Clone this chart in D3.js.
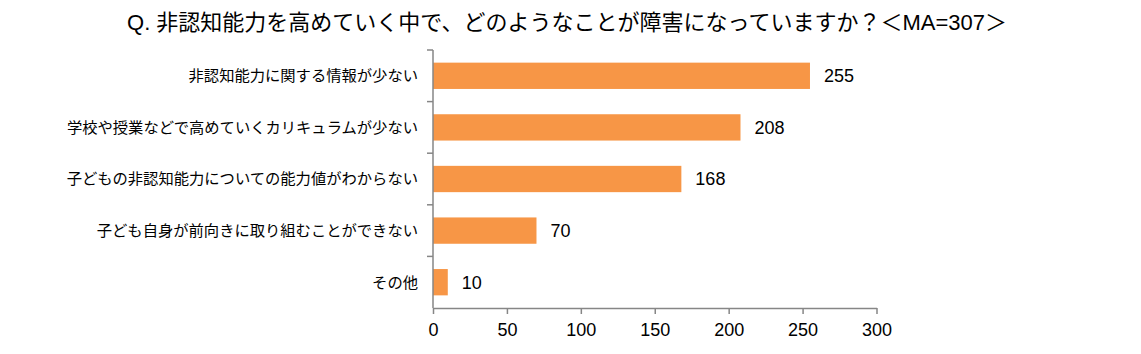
<!DOCTYPE html>
<html>
<head>
<meta charset="utf-8">
<script src="https://cdn.jsdelivr.net/npm/d3@7"></script>
<style>
    body { margin: 0; background: #fff; }
    svg text { font-family: "Liberation Sans", Arial, "Noto Sans CJK JP", sans-serif; fill: #000; }
</style>
</head>
<body>
<div id="chart"></div>
<script>
// Data
const categories = [
    "非認知能力に関する情報が少ない",
    "学校や授業などで高めていくカリキュラムが少ない",
    "子どもの非認知能力についての能力値がわからない",
    "子ども自身が前向きに取り組むことができない",
    "その他"
];
const counts = [255, 208, 168, 70, 10];
const xTicks = [0, 50, 100, 150, 200, 250, 300];
const title = "Q. 非認知能力を高めていく中で、どのようなことが障害になっていますか？＜MA=307＞";

// Chart dimensions
const width = 1141;
const height = 354;
const marginTop = 50;
const marginBottom = 46;
const marginLeft = 433;
const plotRight = 876.5;

const svg = d3.create("svg")
    .attr("width", width)
    .attr("height", height);
chart.append(svg.node());

// Scales
const x = d3.scaleLinear()
    .domain([0, 300])
    .range([marginLeft, plotRight]);

const y = d3.scaleBand()
    .domain(categories)
    .range([marginTop, height - marginBottom])
    .padding(0);

const barH = y.bandwidth() * 0.51;

// Title
svg.append("text")
    .attr("x", 567)
    .attr("y", 30)
    .attr("text-anchor", "middle")
    .style("font-size", "22px")
    .text(title);

// Bars
svg.selectAll("rect.bar")
    .data(categories)
    .enter()
    .append("rect")
    .attr("class", "bar")
    .attr("x", x(0))
    .attr("y", d => y(d) + (y.bandwidth() - barH) / 2)
    .attr("width", (d, i) => x(counts[i]) - x(0))
    .attr("height", barH)
    .attr("fill", "#F79646");

// Value labels
svg.selectAll("text.val")
    .data(categories)
    .enter()
    .append("text")
    .attr("class", "val")
    .attr("x", (d, i) => x(counts[i]) + 14)
    .attr("y", d => y(d) + y.bandwidth() / 2)
    .attr("dy", "0.36em")
    .style("font-size", "18px")
    .text((d, i) => counts[i]);

// X axis
const gx = svg.append("g")
    .attr("transform", `translate(0,${height - marginBottom})`)
    .call(d3.axisBottom(x).tickValues(xTicks).tickSize(6).tickSizeOuter(0).tickPadding(9));
gx.select(".domain").attr("stroke", "#868686").attr("stroke-width", 1.5);
gx.selectAll(".tick line").attr("stroke", "#868686").attr("stroke-width", 1.5);
gx.selectAll(".tick text")
    .style("font-size", "18px")
    .attr("font-family", null);

// Y axis: ticks sit between categories
const gy = svg.append("g")
    .attr("transform", `translate(${marginLeft},0)`);
gy.append("line")
    .attr("x1", 0).attr("x2", 0)
    .attr("y1", y.range()[0]).attr("y2", y.range()[1])
    .attr("stroke", "#868686")
    .attr("stroke-width", 1.5);
gy.selectAll("line.tk")
    .data(categories)
    .enter()
    .append("line")
    .attr("class", "tk")
    .attr("x1", -6).attr("x2", 0)
    .attr("y1", d => y(d)).attr("y2", d => y(d))
    .attr("stroke", "#868686")
    .attr("stroke-width", 1.5);
gy.selectAll("text.cat")
    .data(categories)
    .enter()
    .append("text")
    .attr("class", "cat")
    .attr("x", -15)
    .attr("y", d => y(d) + y.bandwidth() / 2)
    .attr("dy", "0.35em")
    .attr("text-anchor", "end")
    .style("font-size", "15.3px")
    .text(d => d);
</script>
</body>
</html>
